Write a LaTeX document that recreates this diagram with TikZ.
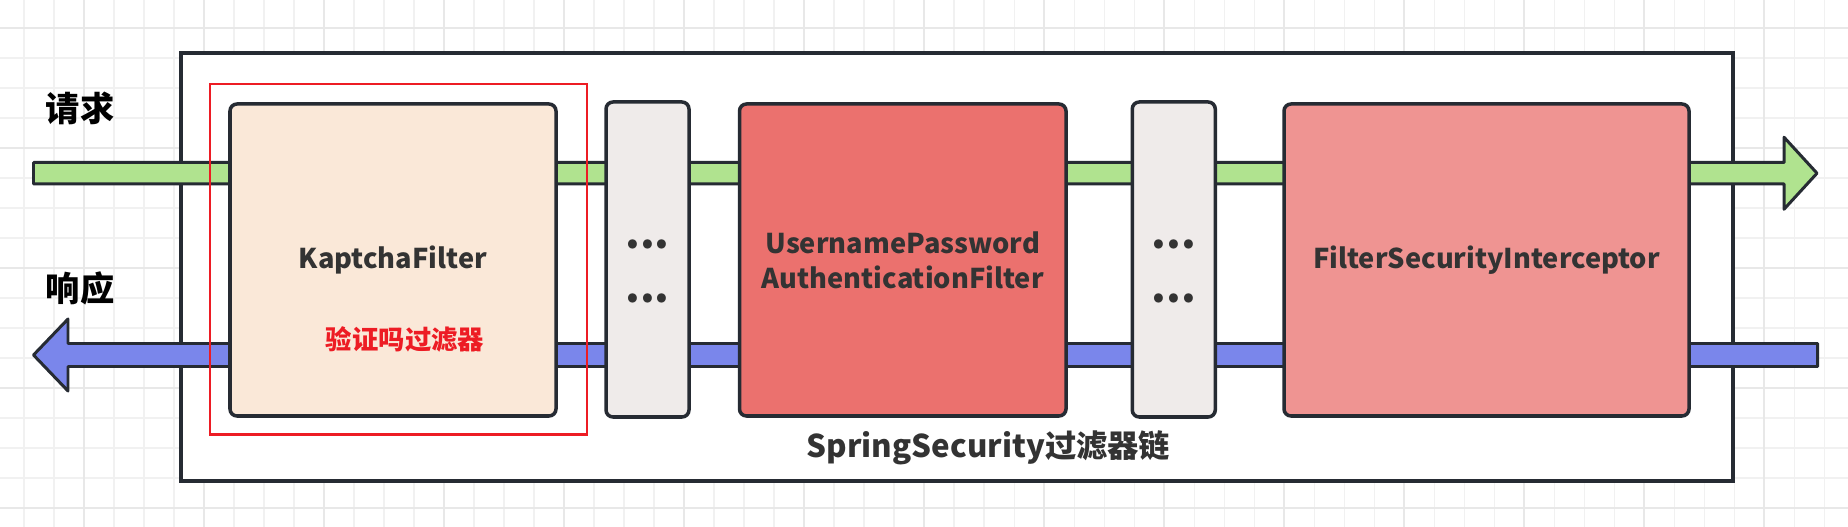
\documentclass[tikz,border=0pt]{standalone}
\usepackage{fontspec}
\setmainfont{Noto Sans CJK SC}
\usetikzlibrary{calc,positioning}
\definecolor{ChainLine}{RGB}{38,43,51}
\definecolor{ChainText}{RGB}{51,51,51}
\definecolor{ChainGrid}{RGB}{241,241,241}
\definecolor{ChainGridMajor}{RGB}{232,232,232}
\definecolor{ReqGreen}{RGB}{176,227,143}
\definecolor{RespBlue}{RGB}{122,134,235}
\definecolor{KaptchaFill}{RGB}{250,232,216}
\definecolor{DotsFill}{RGB}{239,235,234}
\definecolor{AuthFill}{RGB}{235,113,110}
\definecolor{InterceptFill}{RGB}{239,148,146}
\definecolor{HighlightRed}{RGB}{237,28,36}
\tikzset{
  cadeia/.style={draw=ChainLine, fill=white, line width=2.3pt, inner sep=0pt},
  filtro/.style={draw=ChainLine, line width=2pt, rounded corners=4pt, inner sep=0pt,
                align=center, text=ChainText, minimum height=6.24cm,
                font=\fontsize{15.5pt}{19.8pt}\selectfont\bfseries},
  reticencias/.style={draw=ChainLine, fill=DotsFill, line width=2pt, rounded corners=4pt,
                minimum width=1.66cm, minimum height=6.30cm},
  pontos/.style={align=center, text=ChainText, inner sep=0pt,
                font=\fontsize{24pt}{30.7pt}\selectfont\bfseries},
  destaque/.style={draw=HighlightRed, line width=1.4pt, inner sep=0pt},
  bloco/.style={draw=ChainLine, line width=1.7pt, line join=round},
  rotulo/.style={font=\fontsize{19.5pt}{22pt}\selectfont\bfseries, text=black, inner sep=0pt},
  nota/.style={font=\fontsize{15pt}{17pt}\selectfont\bfseries, text=HighlightRed, inner sep=0pt},
}

\begin{document}
\begin{tikzpicture}

  \useasboundingbox (0,0) rectangle (36.96,10.54);

  % --- Fundo quadriculado ------------------------------------------------------
  \fill[white] (0,0) rectangle (36.96,10.54);
  \foreach \gx in {0,...,60} \draw[ChainGrid, line width=0.6pt] ({0.48+0.6*\gx},0) -- ++(0,10.54);
  \foreach \gy in {0,...,16} \draw[ChainGrid, line width=0.6pt] (0,{0.38+0.6*\gy}) -- ++(36.96,0);
  \foreach \gx in {0,...,14} \draw[ChainGridMajor, line width=1pt] ({1.68+2.4*\gx},0) -- ++(0,10.54);
  \foreach \gy in {0,...,4} \draw[ChainGridMajor, line width=1pt] (0,{0.38+2.4*\gy}) -- ++(36.96,0);

  % --- Cadeia de filtros (moldura) --------------------------------------------
  \node[cadeia, minimum width=31.04cm, minimum height=8.56cm] (chain) at (19.14,5.20) {};

  % --- Pontas das setas de requisição e resposta ------------------------------
  \coordinate (reqin)   at (0.67,7.075);
  \coordinate (reqout)  at (36.34,7.075);
  \coordinate (respin)  at (36.35,3.44);
  \coordinate (respout) at (0.67,3.44);

  % requisição (verde) -> direita
  \draw[bloco, fill=ReqGreen] ($(reqin)+(0,0.215)$) -- ($(reqout)+(-0.66,0.215)$)
    -- ($(reqout)+(-0.66,0.72)$) -- (reqout) -- ($(reqout)+(-0.66,-0.72)$)
    -- ($(reqout)+(-0.66,-0.215)$) -- ($(reqin)+(0,-0.215)$) -- cycle;
  % resposta (azul) -> esquerda
  \draw[bloco, fill=RespBlue] ($(respin)+(0,0.23)$) -- ($(respout)+(0.69,0.23)$)
    -- ($(respout)+(0.69,0.72)$) -- (respout) -- ($(respout)+(0.69,-0.72)$)
    -- ($(respout)+(0.69,-0.23)$) -- ($(respin)+(0,-0.23)$) -- cycle;

  % --- Filtros ---------------------------------------------------------------
  \node[filtro, fill=KaptchaFill, minimum width=6.52cm] (kaptcha) at (7.86,5.34) {KaptchaFilter};
  \node[reticencias] (outros1) at (12.95,5.35) {};
  \node[filtro, fill=AuthFill, minimum width=6.53cm] (upaf) at (18.055,5.34) {UsernamePassword\\AuthenticationFilter};
  \node[reticencias] (outros2) at (23.475,5.35) {};
  \node[filtro, fill=InterceptFill, minimum width=8.10cm] (fsi) at (29.73,5.34) {FilterSecurityInterceptor};

  \node[pontos] (pontos1) at (12.95,5.12) {...\\...};
  \node[pontos] (pontos2) at (23.48,5.12) {...\\...};

  % --- Destaque do filtro de captcha -----------------------------------------
  \node[destaque, minimum width=7.54cm, minimum height=7.01cm] (highlight) at (7.97,5.355) {};
  \node[nota] (kaptchanote) at (8.10,3.75) {验证吗过滤器};

  % --- Rótulos ----------------------------------------------------------------
  \node[rotulo] (reqlabel)  at (1.60,8.38) {请求};
  \node[rotulo] (resplabel) at (1.60,4.78) {响应};
  \node[font=\fontsize{17.8pt}{19.8pt}\selectfont\bfseries, text=ChainText, inner sep=0pt] (chainlabel) at (19.77,1.58) {SpringSecurity过滤器链};

\end{tikzpicture}
\end{document}
